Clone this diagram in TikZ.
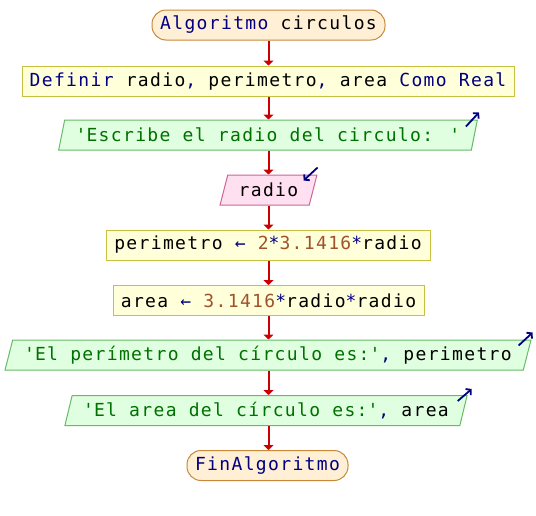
\documentclass[tikz,border=0pt]{standalone}
\usepackage{fontspec}
\usetikzlibrary{shapes.geometric,arrows.meta}
\newfontfamily\codefont[LetterSpace=7.5]{DejaVu Sans Mono}
\definecolor{kwblue}{HTML}{000080}
\definecolor{numbrown}{HTML}{A0522D}
\definecolor{strgreen}{HTML}{007000}
\definecolor{flowred}{HTML}{CC0000}
\definecolor{termfill}{HTML}{FFEFD5}
\definecolor{termline}{HTML}{C8883A}
\definecolor{procfill}{HTML}{FFFFDA}
\definecolor{procline}{HTML}{C8C040}
\definecolor{outfill}{HTML}{E0FFE0}
\definecolor{outline}{HTML}{66BB66}
\definecolor{infill}{HTML}{FFE0F0}
\definecolor{inline}{HTML}{CC6699}
\newcommand{\kw}[1]{\textcolor{kwblue}{#1}}
\newcommand{\nm}[1]{\textcolor{numbrown}{#1}}
\newcommand{\st}[1]{\textcolor{strgreen}{#1}}
\newcommand{\sq}{\textquotesingle}
\begin{document}
\begin{tikzpicture}[x=1pt,y=1pt,
  every node/.style={font=\codefont\fontsize{18}{20}\selectfont, inner sep=0pt,
    minimum height=30pt, line width=1pt},
  term/.style={draw=termline, fill=termfill, rounded corners=14pt},
  proc/.style={draw=procline, fill=procfill, rectangle},
  io/.style={trapezium, trapezium left angle=68, trapezium right angle=112,
    trapezium stretches=true},
  outbox/.style={io, draw=outline, fill=outfill},
  inbox/.style={io, draw=inline, fill=infill},
  flow/.style={draw=flowred, line width=2pt, -{Triangle[length=5pt,width=10pt]}},
  icon/.style={draw=kwblue, line width=1.8pt, -{Straight Barb[length=3.5pt,width=8pt]}}]

\fill[white] (0,0) rectangle (536,-515);
\useasboundingbox (0,0) rectangle (536,-515);

% flowchart blocks
\node[term, minimum width=233pt] (start) at (268.5,-25) {\kw{Algoritmo} circulos};
\node[proc, minimum width=492pt] (defs) at (268,-81)
  {\kw{Definir} radio\kw{,} perimetro\kw{,} area \kw{Como Real}};
\node[outbox, minimum width=420pt] (ask) at (268,-135)
  {\st{\sq Escribe el radio del circulo: \sq}};
\node[inbox, minimum width=97pt] (read) at (268.5,-190) {radio};
\node[proc, minimum width=324pt] (perim) at (268,-245)
  {perimetro \kw{←} \nm{2}\kw{*}\nm{3.1416}\kw{*}radio};
\node[proc, minimum width=311pt] (area) at (268.5,-300.5)
  {area \kw{←} \nm{3.1416}\kw{*}radio\kw{*}radio};
\node[outbox, minimum width=528pt] (showp) at (268,-355)
  {\st{\sq El perímetro del círculo es:\sq}\kw{,} perimetro};
\node[outbox, minimum width=404pt] (showa) at (266,-410.5)
  {\st{\sq El area del círculo es:\sq}\kw{,} area};
\node[term, minimum width=161pt] (stop) at (267.5,-465.5) {\kw{FinAlgoritmo}};

% connectors
\draw[flow] (start.south) -- (start.south |- defs.north);
\draw[flow] (start.south |- defs.south) -- (start.south |- ask.north);
\draw[flow] (start.south |- ask.south) -- (start.south |- read.north);
\draw[flow] (start.south |- read.south) -- (start.south |- perim.north);
\draw[flow] (start.south |- perim.south) -- (start.south |- area.north);
\draw[flow] (start.south |- area.south) -- (start.south |- showp.north);
\draw[flow] (start.south |- showp.south) -- (start.south |- showa.north);
\draw[flow] (start.south |- showa.south) -- (start.south |- stop.north);

% input / output markers
\draw[icon] ([shift={(-12,-7)}]ask.top right corner) -- ([shift={(1,7)}]ask.top right corner);
\draw[icon] ([shift={(0,7)}]read.top right corner) -- ([shift={(-14,-6)}]read.top right corner);
\draw[icon] ([shift={(-13,-6)}]showp.top right corner) -- ([shift={(1,7)}]showp.top right corner);
\draw[icon] ([shift={(-10,-6)}]showa.top right corner) -- ([shift={(4,6)}]showa.top right corner);
\end{tikzpicture}
\end{document}
